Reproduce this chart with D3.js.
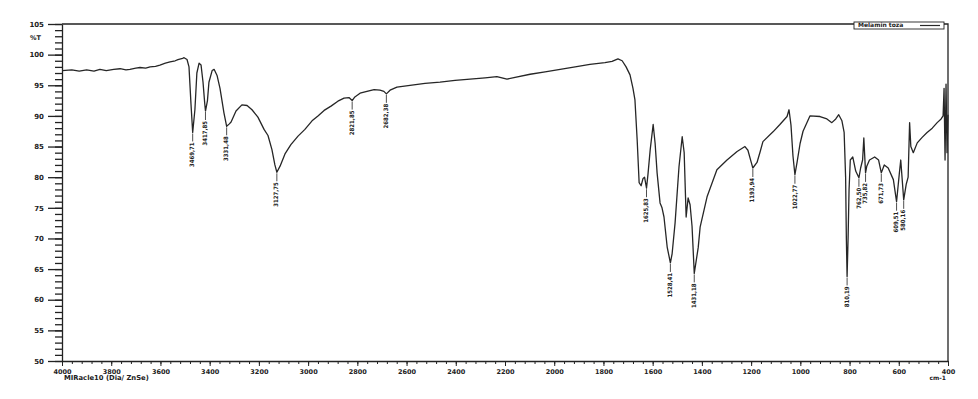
<!DOCTYPE html>
<html>
<head>
<meta charset="utf-8">
<script src="https://cdn.jsdelivr.net/npm/d3@7"></script>
<style>
  body { margin: 0; background: #fff; }
  svg { display: block; }
  .tick text { font-family: "DejaVu Sans", sans-serif; font-weight: bold; fill: #222; }
  .domain, .tick line { stroke: #222; }
</style>
</head>
<body>
<svg width="978" height="399"></svg>
<script>
// spectrum (wavenumber cm-1, %T)
const wavenumbers = [4000, 3960, 3930, 3900, 3870, 3846, 3820, 3790, 3764, 3740, 3724, 3700, 3683, 3660, 3642, 3620, 3602, 3580, 3561, 3540, 3529, 3510, 3504, 3492, 3484, 3476, 3469, 3460, 3452, 3443, 3435, 3427, 3420, 3417, 3409, 3403, 3390, 3382, 3370, 3358, 3342, 3331, 3320, 3313, 3293, 3269, 3248, 3228, 3204, 3179, 3163, 3147, 3135, 3127, 3114, 3094, 3070, 3041, 3013, 2984, 2960, 2935, 2907, 2879, 2854, 2834, 2821, 2810, 2789, 2761, 2732, 2708, 2692, 2682, 2667, 2639, 2586, 2525, 2464, 2403, 2342, 2281, 2233, 2192, 2159, 2098, 2037, 1976, 1915, 1855, 1794, 1765, 1741, 1724, 1708, 1692, 1680, 1672, 1663, 1655, 1647, 1639, 1633, 1625, 1619, 1610, 1598, 1590, 1582, 1570, 1562, 1554, 1541, 1528, 1521, 1509, 1493, 1480, 1472, 1464, 1456, 1448, 1440, 1431, 1415, 1407, 1379, 1339, 1298, 1257, 1225, 1213, 1200, 1193, 1176, 1163, 1152, 1111, 1083, 1054, 1046, 1038, 1030, 1022, 1013, 1001, 989, 961, 920, 892, 872, 856, 844, 831, 822, 816, 813, 810, 806, 802, 797, 787, 775, 762, 755, 747, 742, 735, 730, 719, 698, 682, 671, 659, 643, 622, 609, 598, 592, 580, 570, 562, 556, 551, 541, 525, 505, 485, 464, 444, 428, 420, 416, 412, 408, 404, 400];
const transmittance = [97.4, 97.5, 97.3, 97.5, 97.3, 97.6, 97.4, 97.6, 97.7, 97.5, 97.6, 97.8, 97.9, 97.8, 98.0, 98.1, 98.3, 98.6, 98.8, 99.0, 99.2, 99.4, 99.5, 99.2, 98.0, 92.0, 87.3, 91.0, 97.0, 98.6, 98.3, 95.5, 92.0, 90.8, 92.5, 95.5, 97.4, 97.6, 96.6, 94.5, 90.5, 88.3, 88.7, 89.0, 90.8, 91.8, 91.7, 91.0, 89.8, 87.8, 86.8, 84.5, 82.0, 80.8, 81.8, 83.8, 85.3, 86.7, 87.8, 89.2, 90.0, 90.9, 91.6, 92.4, 92.9, 93.0, 92.5, 93.1, 93.7, 94.0, 94.3, 94.2, 94.0, 93.6, 94.2, 94.7, 95.0, 95.3, 95.5, 95.8, 96.0, 96.2, 96.4, 96.0, 96.3, 96.8, 97.2, 97.6, 98.0, 98.4, 98.7, 98.9, 99.3, 99.0, 98.0, 96.7, 94.5, 92.6, 86.1, 79.1, 78.6, 79.8, 80.0, 78.2, 80.5, 84.5, 88.6, 85.5, 80.7, 75.8, 75.0, 73.5, 68.6, 66.0, 67.5, 72.5, 81.7, 86.6, 84.0, 73.5, 76.6, 75.5, 72.0, 64.3, 68.5, 71.9, 76.8, 81.2, 82.8, 84.2, 85.0, 84.4, 82.5, 81.5, 82.4, 84.2, 85.8, 87.4, 88.6, 89.9, 91.0, 88.5, 83.5, 80.4, 82.5, 85.5, 87.5, 90.0, 89.9, 89.5, 88.9, 89.5, 90.2, 89.2, 87.3, 80.0, 70.0, 63.8, 70.0, 78.0, 82.8, 83.3, 81.0, 79.9, 81.5, 82.8, 86.4, 80.7, 81.8, 82.8, 83.3, 82.8, 80.7, 82.0, 81.5, 79.6, 76.0, 80.5, 82.8, 76.3, 78.8, 80.0, 88.9, 85.0, 84.0, 85.6, 86.5, 87.3, 88.0, 88.9, 89.5, 90.0, 94.5, 82.8, 95.2, 84.0, 90.2];

// marked peaks
const peakWavenumbers = [3469, 3417, 3331, 3127, 2821, 2682, 1625, 1528, 1431, 1193, 1022, 810, 762, 735, 671, 609, 580];
const peakLabels = ["3469,71", "3417,85", "3331,48", "3127,75", "2821,85", "2682,38", "1625,83", "1528,41", "1431,18", "1193,94", "1022,77", "810,19", "762,50", "735,82", "671,73", "609,51", "580,16"];

const xMajorTicks = d3.range(4000, 399, -200);
const xMinorTicks = d3.range(4000, 399, -40);
const yMajorTicks = d3.range(50, 106, 5);
const yMinorTicks = d3.range(50, 106, 1);
const seriesName = "Melamin toza";

const margin = {top: 24, right: 30, bottom: 38, left: 62};
const width = 978, height = 399;

const svg = d3.select("svg");

const x = d3.scaleLinear().domain([4000, 400]).range([margin.left, width - margin.right]);
const y = d3.scaleLinear().domain([50, 105]).range([height - margin.bottom, margin.top]);

const spectrum = wavenumbers.map((w, i) => ({w: w, t: transmittance[i]}));

// y axis: minor then major ticks
svg.append("g")
    .attr("transform", `translate(${margin.left},0)`)
    .call(d3.axisLeft(y).tickValues(yMinorTicks).tickSize(7).tickFormat(""))
    .call(g => g.select(".domain").remove())
    .selectAll("line").attr("stroke-width", 1.3);

svg.append("g")
    .attr("transform", `translate(${margin.left},0)`)
    .call(d3.axisLeft(y).tickValues(yMajorTicks).tickSize(14).tickPadding(4).tickSizeOuter(0))
    .call(g => g.selectAll("text").attr("font-size", 7))
    .call(g => g.selectAll("line").attr("stroke-width", 1.3))
    .call(g => g.select(".domain").attr("stroke-width", 1.3));

// x axis
svg.append("g")
    .attr("transform", `translate(0,${height - margin.bottom})`)
    .call(d3.axisBottom(x).tickValues(xMinorTicks).tickSize(3).tickFormat(""))
    .call(g => g.select(".domain").remove());

svg.append("g")
    .attr("transform", `translate(0,${height - margin.bottom})`)
    .call(d3.axisBottom(x).tickValues(xMajorTicks).tickSize(5).tickPadding(3).tickSizeOuter(0).tickFormat(d3.format("d")))
    .call(g => g.selectAll("text").attr("font-size", 6.5))
    .call(g => g.select(".domain").attr("stroke-width", 1.3));

// top and right frame
svg.append("path")
    .attr("d", `M${margin.left},${margin.top}H${width - margin.right}V${height - margin.bottom}`)
    .attr("fill", "none")
    .attr("stroke", "#222")
    .attr("stroke-width", 1.3);

// axis captions
svg.append("text")
    .attr("x", 41).attr("y", y(102.6))
    .attr("text-anchor", "end").attr("dominant-baseline", "middle")
    .attr("font-family", "DejaVu Sans").attr("font-weight", "bold").attr("font-size", 6.5)
    .attr("fill", "#222")
    .text("%T");

svg.append("text")
    .attr("x", margin.left + 2).attr("y", 380)
    .attr("font-family", "DejaVu Sans").attr("font-weight", "bold").attr("font-size", 6.8)
    .attr("fill", "#222")
    .text("MIRacle10 (Dia/ ZnSe)");

svg.append("text")
    .attr("x", width - margin.right - 2).attr("y", 380)
    .attr("text-anchor", "end")
    .attr("font-family", "DejaVu Sans").attr("font-weight", "bold").attr("font-size", 6)
    .attr("fill", "#222")
    .text("cm-1");

// the spectrum
const line = d3.line()
    .x(d => x(d.w))
    .y(d => y(d.t));

svg.append("path")
    .datum(spectrum)
    .attr("fill", "none")
    .attr("stroke", "#262626")
    .attr("stroke-width", 1.3)
    .attr("stroke-linejoin", "round")
    .attr("d", line);

// peak markers
const peaks = peakWavenumbers.map((w, i) => {
    const idx = wavenumbers.indexOf(w);
    return {w: w, t: transmittance[idx], label: peakLabels[i]};
});

const peakG = svg.append("g")
    .selectAll("g")
    .data(peaks)
    .join("g")
    .attr("transform", d => `translate(${x(d.w)},${y(d.t)})`);

peakG.append("line")
    .attr("y1", 1).attr("y2", 9)
    .attr("stroke", "#222")
    .attr("stroke-width", 0.8);

peakG.append("text")
    .attr("transform", "translate(0,10) rotate(-90)")
    .attr("text-anchor", "end")
    .attr("dominant-baseline", "middle")
    .attr("font-family", "DejaVu Sans Condensed")
    .attr("font-weight", "bold")
    .attr("font-size", 6)
    .attr("fill", "#222")
    .text(d => d.label);

// legend box
const legend = svg.append("g").attr("transform", "translate(854,22)");
legend.append("rect")
    .attr("width", 90).attr("height", 7)
    .attr("fill", "#fff")
    .attr("stroke", "#222")
    .attr("stroke-width", 0.9);
legend.append("text")
    .attr("x", 4).attr("y", 3.8)
    .attr("dominant-baseline", "middle")
    .attr("font-family", "DejaVu Sans").attr("font-weight", "bold").attr("font-size", 6)
    .attr("fill", "#222")
    .text(seriesName);
legend.append("line")
    .attr("x1", 66).attr("x2", 86).attr("y1", 3.5).attr("y2", 3.5)
    .attr("stroke", "#262626").attr("stroke-width", 1.2);
</script>
</body>
</html>
